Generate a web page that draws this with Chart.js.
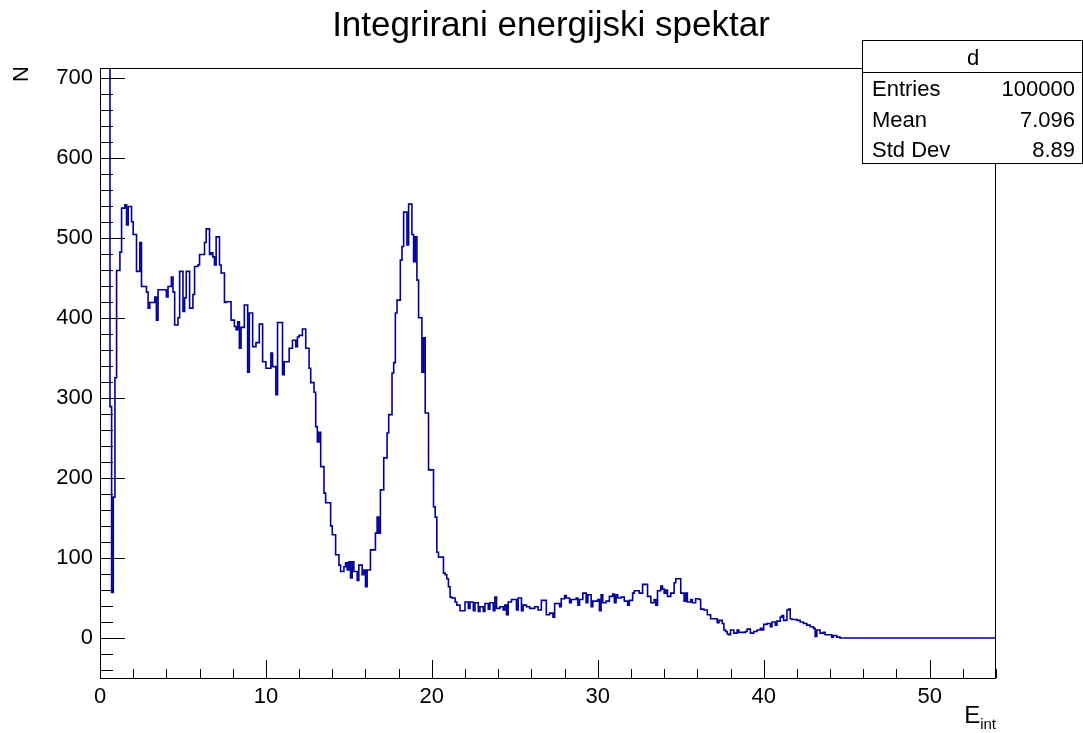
<!DOCTYPE html>
<html>
<head>
<meta charset="utf-8">
<script src="https://cdn.jsdelivr.net/npm/chart.js@4/dist/chart.umd.min.js"></script>
<style>
html,body{margin:0;padding:0;background:#fff;}
canvas{display:block;}
</style>
</head>
<body>
<canvas id="c" width="1083" height="733"></canvas>
<script>
// ---- data ----
const chartTitle = "Integrirani energijski spektar";
const xAxisTitle = "E";
const xAxisSub = "int";
const yAxisTitle = "N";
const histName = "d";
const statsLabels = ["Entries", "Mean", "Std Dev"];
const statsValues = ["100000", "7.096", "8.89"];
const xTickLabels = [0, 10, 20, 30, 40, 50];
const yTickLabels = [0, 100, 200, 300, 400, 500, 600, 700];
const xRange = [0, 54];
const yRange = [-50, 712];
const binWidth = 0.1;
// counts per bin (bin width 0.1, starting at 0)
const counts = [
780,780,780,780,780,780,289,57,176,325,
459,459,482,537,537,541,516,539,539,520,
504,504,458,458,494,439,439,439,432,412,
419,419,419,426,397,435,435,435,435,435,
426,439,439,451,432,391,391,400,458,458,
408,425,458,458,412,412,429,464,464,466,
479,479,479,494,511,511,479,481,476,466,
501,501,466,456,456,419,420,420,420,397,
397,389,385,395,362,388,388,416,416,332,
406,406,364,364,369,369,392,392,345,345,
337,337,337,356,339,339,304,394,394,394,
329,345,345,345,362,362,372,372,364,376,
378,378,386,386,362,362,337,319,319,307,
264,245,257,214,214,181,169,169,169,140,
129,129,104,104,91,83,83,89,94,85,
95,75,95,83,83,72,91,91,79,85,
64,85,85,110,110,110,131,151,131,185,
185,225,225,256,279,279,331,344,406,422,
422,472,489,532,532,491,542,542,504,470,
501,447,400,400,332,375,281,281,210,210,
210,164,151,107,101,101,101,81,79,74,
64,51,50,50,45,41,41,34,34,34,
45,45,37,45,45,34,44,44,33,39,
39,33,43,43,36,44,44,34,51,37,
37,39,39,35,41,29,45,45,48,48,
48,35,50,50,34,41,41,39,39,37,
37,37,39,39,35,35,47,47,47,29,
29,31,31,26,43,43,43,39,49,49,
53,50,50,44,48,48,48,50,41,48,
48,56,56,44,54,54,39,46,46,46,
48,34,54,44,44,46,46,52,52,55,
44,54,50,50,51,51,46,46,41,47,
47,56,59,59,59,56,56,67,67,67,
52,52,44,44,48,41,59,59,65,61,
56,60,52,52,56,56,69,74,74,74,
56,56,46,56,45,45,48,44,44,49,
49,48,36,36,35,35,29,29,24,24,
24,24,19,22,22,18,10,8,5,4,
10,10,6,6,10,7,7,7,7,8,
11,11,6,6,8,8,10,10,12,10,
17,17,18,18,14,20,20,16,21,21,
26,28,22,22,35,36,24,23,23,23,
22,22,20,20,18,18,16,16,14,14,
12,2,10,10,6,6,7,4,4,4,
4,1,3,3,1,1,0,0,0,0,
0,0,0,0,0,0,0,0,0,0,
0,0,0,0,0,0,0,0,0,0,
0,0,0,0,0,0,0,0,0,0,
0,0,0,0,0,0,0,0,0,0,
0,0,0,0,0,0,0,0,0,0,
0,0,0,0,0,0,0,0,0,0,
0,0,0,0,0,0,0,0,0,0,
0,0,0,0,0,0,0,0,0,0,
0,0,0,0,0,0,0,0,0,0
];

// ---- build step points (left bin edges + final right edge) ----
const points = counts.map((v, i) => ({x: i * binWidth, y: v}));
points.push({x: counts.length * binWidth, y: counts[counts.length - 1]});

const FONT = "'Liberation Sans', Arial, Helvetica, sans-serif";

const rootPlugin = {
  id: 'rootStyle',
  beforeDraw(chart) {
    const ctx = chart.ctx;
    ctx.save();
    ctx.fillStyle = '#fff';
    ctx.fillRect(0, 0, chart.width, chart.height);
    ctx.restore();
  },
  afterDraw(chart) {
    const ctx = chart.ctx;
    const a = chart.chartArea;
    const xs = chart.scales.x, ys = chart.scales.y;
    ctx.save();
    ctx.strokeStyle = '#000';
    ctx.lineWidth = 1;
    // frame
    ctx.strokeRect(Math.round(a.left) + 0.5, Math.round(a.top) + 0.5,
                   Math.round(a.right - a.left) - 1, Math.round(a.bottom - a.top));
    // x ticks (major every 10, minor every 2)
    ctx.beginPath();
    for (let k = 0; k * 2 <= xRange[1]; k++) {
      const v = k * 2;
      const px = Math.round(xs.getPixelForValue(v)) + 0.5;
      const len = (v % 10 === 0) ? 18 : 9;
      ctx.moveTo(px, a.bottom);
      ctx.lineTo(px, a.bottom - len);
    }
    // y ticks (major every 100, minor every 20)
    for (let k = -2; k * 20 <= yRange[1]; k++) {
      const v = k * 20;
      const py = Math.round(ys.getPixelForValue(v)) + 0.5;
      const len = (v % 100 === 0) ? 25 : 13;
      ctx.moveTo(a.left, py);
      ctx.lineTo(a.left + len, py);
    }
    ctx.stroke();

    // title
    ctx.fillStyle = '#000';
    ctx.font = '35px ' + FONT;
    ctx.textAlign = 'center';
    ctx.textBaseline = 'alphabetic';
    ctx.fillText(chartTitle, 551, 36);

    // y axis title (rotated)
    ctx.save();
    ctx.translate(28, a.top - 2);
    ctx.rotate(-Math.PI / 2);
    ctx.font = '22px ' + FONT;
    ctx.textAlign = 'right';
    ctx.fillText(yAxisTitle, 0, 0);
    ctx.restore();

    // x axis title with subscript
    ctx.font = '15px ' + FONT;
    const subW = ctx.measureText(xAxisSub).width;
    ctx.textAlign = 'right';
    ctx.fillText(xAxisSub, a.right, 729);
    ctx.font = '24px ' + FONT;
    ctx.fillText(xAxisTitle, a.right - subW, 723);

    // stats box
    const bx = 862, by = 40, bw = 220, bh = 123;
    ctx.fillStyle = '#fff';
    ctx.fillRect(bx, by, bw, bh);
    ctx.strokeRect(bx + 0.5, by + 0.5, bw, bh);
    ctx.beginPath();
    ctx.moveTo(bx, by + 32.5);
    ctx.lineTo(bx + bw, by + 32.5);
    ctx.stroke();
    ctx.fillStyle = '#000';
    ctx.font = '22px ' + FONT;
    ctx.textAlign = 'center';
    ctx.fillText(histName, bx + bw / 2 + 1, by + 25);
    for (let i = 0; i < statsLabels.length; i++) {
      const yy = by + 56 + i * 30.5;
      ctx.textAlign = 'left';
      ctx.fillText(statsLabels[i], bx + 10, yy);
      ctx.textAlign = 'right';
      ctx.fillText(statsValues[i], bx + bw - 7, yy);
    }
    ctx.restore();
  }
};

new Chart(document.getElementById('c'), {
  type: 'line',
  data: {
    datasets: [{
      data: points,
      stepped: 'before',
      borderColor: '#000099',
      borderWidth: 1.6,
      pointRadius: 0,
      fill: false,
      tension: 0
    }]
  },
  options: {
    responsive: false,
    animation: false,
    events: [],
    layout: {padding: {top: 68, right: 87, left: 0, bottom: 0}},
    plugins: {legend: {display: false}, tooltip: {enabled: false}, title: {display: false}},
    scales: {
      x: {
        type: 'linear',
        min: xRange[0], max: xRange[1],
        grid: {display: false, drawTicks: false},
        border: {display: false},
        afterBuildTicks: (s) => { s.ticks = xTickLabels.map(v => ({value: v})); },
        afterFit: (s) => { s.height = 55; },
        ticks: {
          color: '#000', padding: 6, maxRotation: 0, autoSkip: false,
          font: {family: FONT, size: 22}
        }
      },
      y: {
        type: 'linear',
        min: yRange[0], max: yRange[1],
        grid: {display: false, drawTicks: false},
        border: {display: false},
        afterBuildTicks: (s) => { s.ticks = yTickLabels.map(v => ({value: v})); },
        afterFit: (s) => { s.width = 100; },
        ticks: {
          color: '#000', padding: 7, autoSkip: false,
          font: {family: FONT, size: 22}
        }
      }
    }
  },
  plugins: [rootPlugin]
});
</script>
</body>
</html>
